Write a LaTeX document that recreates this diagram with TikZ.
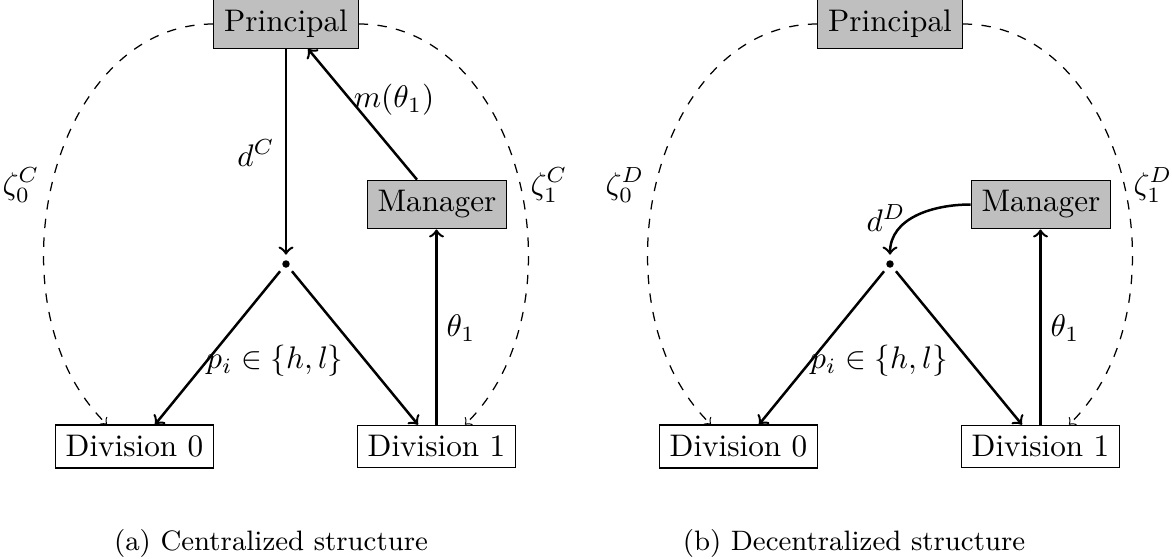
\documentclass[tikz,border=0pt]{standalone}
\usetikzlibrary{calc}
\begin{document}
\begin{tikzpicture}[x=0.3205pt,y=-0.3205pt,
  graybox/.style={draw, fill=black!25, rectangle, inner sep=3.33pt},
  whitebox/.style={draw, fill=white, rectangle, inner sep=3.33pt},
  dotnode/.style={circle, fill, inner sep=0pt, minimum size=2.4pt, outer sep=1.8pt},
  solidarrow/.style={->, thick},
  dasharrow/.style={->, thin, dashed},
  lbl/.style={inner sep=0pt}
]
\useasboundingbox (0,0) rectangle (1172,558);

% ---------- (a) centralized ----------
\node[graybox] (pa) at (286,24) {Principal};
\node[graybox] (ma) at (437,204.5) {Manager};
\node[whitebox] (d0a) at (134.5,446.5) {Division 0};
\node[whitebox] (d1a) at (436.5,446.5) {Division 1};
\node[dotnode] (dota) at (286,264) {};

\coordinate (d0a-in) at ($(d0a.north)+(20.5,0)$);
\coordinate (d1a-in) at ($(d1a.north)+(-18.5,0)$);
\coordinate (d0a-z) at ($(d0a.north)+(-27.5,0)$);
\coordinate (d1a-z) at ($(d1a.north)+(28.5,0)$);
\coordinate (ma-out) at ($(ma.north)+(-20,0)$);
\coordinate (pa-in) at ($(pa.south)+(22,0)$);

\draw[solidarrow] (pa.south) -- (dota);
\draw[solidarrow] (ma-out) -- (pa-in);
\draw[solidarrow] (d1a.north) -- (d1a.north |- ma.south);
\draw[solidarrow] (dota) -- (d0a-in);
\draw[solidarrow] (dota) -- (d1a-in);
\draw[dasharrow] (pa.west) .. controls (50,24) and (-15,305) .. (d0a-z);
\draw[dasharrow] (pa.east) .. controls (522,24) and (587,305) .. (d1a-z);

\node[lbl] (dCa) at (256,153) {$d^C$};
\node[lbl] (mta) at (394,100) {$m(\theta_1)$};
\node[lbl] (tha) at (461,328) {$\theta_1$};
\node[lbl] (pia) at (275,361) {$p_i\in\{h,l\}$};
\node[lbl] (z0a) at (21,185) {$\zeta_0^C$};
\node[lbl] (z1a) at (549,185) {$\zeta_1^C$};
\node (capa) at (271,543) {\small (a) Centralized structure};

% ---------- (b) decentralized ----------
\node[graybox] (pb) at (890,24) {Principal};
\node[graybox] (mb) at (1041,204.5) {Manager};
\node[whitebox] (d0b) at (738.5,446.5) {Division 0};
\node[whitebox] (d1b) at (1040.5,446.5) {Division 1};
\node[dotnode] (dotb) at (890,264) {};

\coordinate (d0b-in) at ($(d0b.north)+(20.5,0)$);
\coordinate (d1b-in) at ($(d1b.north)+(-18.5,0)$);
\coordinate (d0b-z) at ($(d0b.north)+(-27.5,0)$);
\coordinate (d1b-z) at ($(d1b.north)+(28.5,0)$);

\draw[solidarrow] (mb.west) to[out=180,in=90] (dotb);
\draw[solidarrow] (d1b.north) -- (d1b.north |- mb.south);
\draw[solidarrow] (dotb) -- (d0b-in);
\draw[solidarrow] (dotb) -- (d1b-in);
\draw[dasharrow] (pb.west) .. controls (654,24) and (589,305) .. (d0b-z);
\draw[dasharrow] (pb.east) .. controls (1126,24) and (1191,305) .. (d1b-z);

\node[lbl] (dDb) at (886,218) {$d^D$};
\node[lbl] (thb) at (1065,328) {$\theta_1$};
\node[lbl] (pib) at (879,361) {$p_i\in\{h,l\}$};
\node[lbl] (z0b) at (625,185) {$\zeta_0^D$};
\node[lbl] (z1b) at (1153,185) {$\zeta_1^D$};
\node (capb) at (854,543) {\small (b) Decentralized structure};
\end{tikzpicture}
\end{document}
